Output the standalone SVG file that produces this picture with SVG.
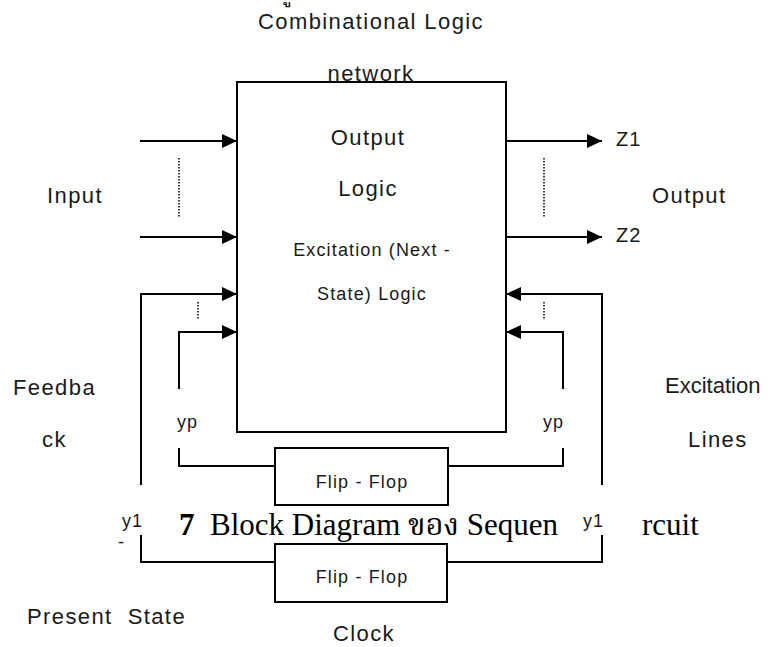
<svg xmlns="http://www.w3.org/2000/svg" width="771" height="647" viewBox="0 0 771 647">
<style>
.t{font-family:"Liberation Sans",Arial,sans-serif;font-size:22px;letter-spacing:1.4px;fill:#1a1a1a}
.s{font-family:"Liberation Sans",Arial,sans-serif;font-size:18px;letter-spacing:1.15px;fill:#1a1a1a}
.l{font-family:"Liberation Sans",Arial,sans-serif;font-size:18px;letter-spacing:1px;fill:#1a1a1a}
.cap{font-family:"Liberation Serif","Times New Roman","Noto Serif Thai","Noto Sans Thai",serif;font-size:31px;fill:#000}
.ln{fill:none;stroke:#000;stroke-width:2}
.dot{fill:none;stroke:#000;stroke-width:1.5;stroke-dasharray:1.5 1.5}
</style>
<defs>
<marker id="ah" markerUnits="userSpaceOnUse" markerWidth="16" markerHeight="16" viewBox="0 0 16 16" refX="15" refY="8" orient="auto">
<path d="M0,1 L15,8 L0,15 Z" fill="#000"/>
</marker>
</defs>
<rect width="771" height="647" fill="#fff"/>

<g id="top-label">
<text class="t" x="292" y="1" style="font-size:24px">ู</text>
<text class="t" x="371" y="29" text-anchor="middle">Combinational Logic</text>
<text class="t" x="371" y="81" text-anchor="middle">network</text>
</g>

<g id="logic-box">
<rect class="ln" x="237" y="82" width="269" height="350"/>
<text class="t" x="368" y="145" text-anchor="middle">Output</text>
<text class="t" x="368" y="196" text-anchor="middle">Logic</text>
<text class="s" x="372" y="256" text-anchor="middle">Excitation (Next -</text>
<text class="s" x="372" y="300" text-anchor="middle">State) Logic</text>
</g>

<g id="ff-p">
<rect class="ln" x="275" y="448" width="173" height="57"/>
<text class="s" x="362" y="488" text-anchor="middle">Flip - Flop</text>
</g>

<g id="ff-1">
<rect class="ln" x="275" y="544" width="172" height="58"/>
<text class="s" x="362" y="583" text-anchor="middle">Flip - Flop</text>
</g>

<g id="connectors">
<line class="ln" x1="140" y1="141" x2="237" y2="141" marker-end="url(#ah)"/>
<line class="ln" x1="140" y1="237" x2="237" y2="237" marker-end="url(#ah)"/>
<line class="dot" x1="179" y1="158" x2="179" y2="217"/>
<line class="ln" x1="506" y1="141" x2="602" y2="141" marker-end="url(#ah)"/>
<line class="ln" x1="506" y1="237" x2="602" y2="237" marker-end="url(#ah)"/>
<line class="dot" x1="544" y1="158" x2="544" y2="217"/>

<polyline class="ln" points="141,485 141,294 237,294" marker-end="url(#ah)"/>
<polyline class="ln" points="179,389 179,332 237,332" marker-end="url(#ah)"/>
<line class="dot" x1="198" y1="302" x2="198" y2="319"/>
<polyline class="ln" points="602,485 602,294 506,294" marker-end="url(#ah)"/>
<polyline class="ln" points="563,389 563,332 506,332" marker-end="url(#ah)"/>
<line class="dot" x1="544" y1="302" x2="544" y2="319"/>

<polyline class="ln" points="179,448 179,466 275,466"/>
<polyline class="ln" points="563,448 563,466 448,466"/>
<polyline class="ln" points="141,535 141,562 275,562"/>
<polyline class="ln" points="602,535 602,562 447,562"/>
</g>

<g id="labels">
<text class="t" x="47" y="203">Input</text>
<text class="t" x="652" y="203">Output</text>
<text class="l" x="616" y="146" style="font-size:20px">Z1</text>
<text class="l" x="616" y="242" style="font-size:20px">Z2</text>
<text class="t" x="13" y="395">Feedba</text>
<text class="t" x="42" y="447">ck</text>
<text class="t" x="665" y="393" style="letter-spacing:0">Excitation</text>
<text class="t" x="688" y="447">Lines</text>
<text class="t" x="27" y="624" xml:space="preserve">Present  State</text>
<text class="t" x="333" y="641">Clock</text>
<text class="l" x="177" y="428">yp</text>
<text class="l" x="543" y="428">yp</text>
<text class="l" x="122" y="527">y1</text>
<text class="l" x="118" y="548">-</text>
<text class="l" x="583" y="527">y1</text>
</g>

<g id="caption">
<text class="cap" x="179" y="535" xml:space="preserve"><tspan font-weight="bold">7</tspan>  Block Diagram ของ Sequen</text>
<text class="cap" x="642" y="535">rcuit</text>
</g>
</svg>
